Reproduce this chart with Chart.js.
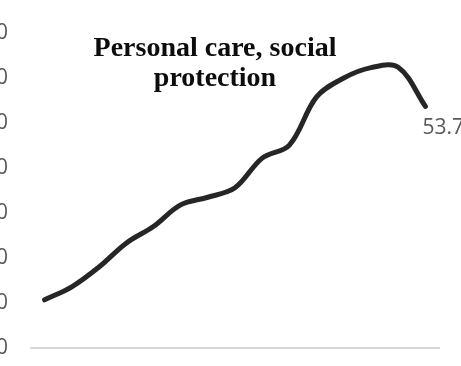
<!DOCTYPE html>
<html>
<head>
<meta charset="utf-8">
<script src="https://cdn.jsdelivr.net/npm/chart.js@4/dist/chart.umd.min.js"></script>
<style>
  html, body { margin: 0; padding: 0; background: #fff; overflow: hidden; }
  #wrap { position: relative; width: 461px; height: 366px; overflow: hidden; }
  #c { position: absolute; left: -40px; top: 0; }
</style>
</head>
<body>
<div id="wrap"><canvas id="c" width="501" height="366"></canvas></div>
<script>
// Personal care, social protection — yearly index
const years = ['2005','2006','2007','2008','2009','2010','2011','2012','2013','2014','2015','2016','2017','2018','2019'];
const values = [10.7, 13.6, 18.0, 23.3, 27.0, 31.8, 33.5, 35.6, 42.2, 45.1, 55.8, 60.0, 62.3, 62.4, 53.7];
const yTicks = [0, 10, 20, 30, 40, 50, 60, 70];
const titleLines = ['Personal care, social', 'protection'];

const GREY = '#595959';

// Title overlaid on the plot area
const overlayTitle = {
  id: 'overlayTitle',
  afterDraw(chart) {
    const ctx = chart.ctx;
    ctx.save();
    ctx.font = 'bold 28px "Liberation Serif"';
    ctx.fillStyle = '#0d0d0d';
    ctx.textAlign = 'center';
    ctx.textBaseline = 'alphabetic';
    const cx = 255;
    titleLines.forEach((t, i) => ctx.fillText(t, cx, 56 + i * 30));
    ctx.restore();
  }
};

// Value label on the last point
const lastLabel = {
  id: 'lastLabel',
  afterDatasetsDraw(chart) {
    const meta = chart.getDatasetMeta(0);
    const idx = values.length - 1;
    const pt = meta.data[idx];
    const ctx = chart.ctx;
    ctx.save();
    ctx.font = '21px "Open Sans"';
    ctx.fillStyle = GREY;
    ctx.textAlign = 'left';
    ctx.textBaseline = 'middle';
    ctx.fillText(values[idx].toFixed(1), pt.x - 3, pt.y + 22);
    ctx.restore();
  }
};

new Chart(document.getElementById('c'), {
  type: 'line',
  data: {
    labels: years,
    datasets: [{
      data: values,
      borderColor: '#262626',
      borderWidth: 5,
      borderCapStyle: 'round',
      borderJoinStyle: 'round',
      tension: 0.35,
      pointRadius: 0,
      fill: false
    }]
  },
  options: {
    responsive: false,
    devicePixelRatio: 1,
    animation: false,
    layout: { padding: { left: 0, right: 22, top: 33, bottom: 18 } },
    plugins: { legend: { display: false }, title: { display: false }, tooltip: { enabled: false } },
    scales: {
      x: {
        offset: true,
        grid: { display: false, drawTicks: false },
        ticks: { display: false },
        border: { display: true, color: '#d9d9d9', width: 2 },
        afterFit(s) { s.height = 0; }
      },
      y: {
        min: yTicks[0],
        max: yTicks[yTicks.length - 1],
        afterBuildTicks(s) { s.ticks = yTicks.map(v => ({ value: v })); },
        grid: { display: false, drawTicks: false },
        border: { display: false },
        ticks: { color: GREY, font: { family: 'Open Sans', size: 21 }, padding: 23 },
        afterFit(s) { s.width = 71; s.paddingTop = 0; s.paddingBottom = 0; }
      }
    }
  },
  plugins: [overlayTitle, lastLabel]
});
</script>
</body>
</html>
